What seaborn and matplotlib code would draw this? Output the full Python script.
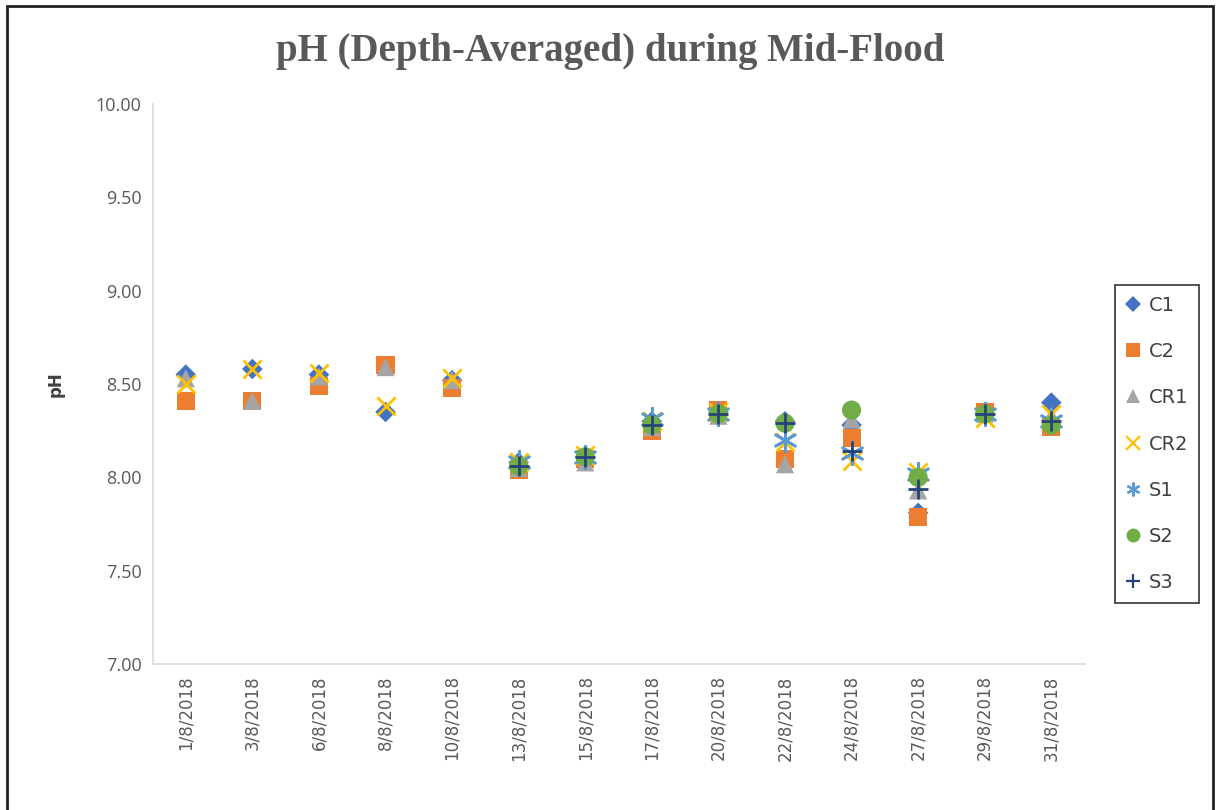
import numpy as np
import pandas as pd
import seaborn as sns
import matplotlib.pyplot as plt
from matplotlib.patches import Rectangle
from matplotlib.lines import Line2D

dates = ["1/8/2018", "3/8/2018", "6/8/2018", "8/8/2018", "10/8/2018",
         "13/8/2018", "15/8/2018", "17/8/2018", "20/8/2018", "22/8/2018",
         "24/8/2018", "27/8/2018", "29/8/2018", "31/8/2018"]

nan = np.nan
c1 = [8.55, 8.58, 8.55, 8.35, 8.52, 8.08, 8.11, 8.30, 8.35, 8.30, 8.28, 7.81, 8.34, 8.40]
c2 = [8.41, 8.41, 8.49, 8.60, 8.48, 8.04, 8.10, 8.25, 8.36, 8.10, 8.21, 7.79, 8.35, 8.27]
cr1 = [8.53, 8.41, 8.54, 8.59, 8.52, 8.05, 8.08, 8.27, 8.33, 8.07, 8.31, 7.93, 8.34, 8.33]
cr2 = [8.50, 8.58, 8.56, 8.38, 8.53, 8.08, 8.12, 8.30, 8.35, 8.19, 8.09, 8.03, 8.32, 8.34]
s1 = [nan, nan, nan, nan, nan, 8.08, 8.11, 8.31, 8.34, 8.20, 8.13, 8.02, 8.34, 8.30]
s2 = [nan, nan, nan, nan, nan, 8.06, 8.11, 8.28, 8.34, 8.29, 8.36, 8.00, 8.34, 8.28]
s3 = [nan, nan, nan, nan, nan, 8.06, 8.11, 8.28, 8.34, 8.29, 8.14, 7.94, 8.34, 8.30]

series = {"C1": c1, "C2": c2, "CR1": cr1, "CR2": cr2, "S1": s1, "S2": s2, "S3": s3}

# marker, colour, size, filled
styles = {
    "C1": ("D", "#4472C4", 110, True),
    "C2": ("s", "#ED7D31", 170, True),
    "CR1": ("^", "#A5A5A5", 170, True),
    "CR2": ("x", "#FFC000", 170, False),
    "S1": ((6, 2, 0), "#5B9BD5", 260, False),
    "S2": ("o", "#70AD47", 190, True),
    "S3": ("+", "#264478", 220, False),
}

sns.set_style("white")
fig = plt.figure(figsize=(12.2, 8.1), dpi=100)
ax = fig.add_axes([0.125, 0.180, 0.764, 0.692])

handles = []
for name, vals in series.items():
    df = pd.DataFrame({"date": dates, "pH": vals}).dropna()
    m, col, s, filled = styles[name]
    if filled:
        sns.scatterplot(data=df, x="date", y="pH", marker=m, color=col, s=s,
                        edgecolor="none", ax=ax, zorder=3)
    else:
        sns.scatterplot(data=df, x="date", y="pH", marker=m, color=col, s=s,
                        linewidth=2, ax=ax, zorder=3)
    handles.append(Line2D([], [], linestyle="none", marker=m, color=col,
                          markersize=10 if m != "D" else 8,
                          markeredgewidth=0 if filled else 1.6, label=name))

ax.set_xlim(-0.5, len(dates) - 0.5)
ax.set_ylim(7.0, 10.0)
ax.set_yticks(np.arange(7.0, 10.01, 0.5))
ax.set_yticklabels([f"{v:.2f}" for v in np.arange(7.0, 10.01, 0.5)],
                   fontsize=13, color="#595959", family="Open Sans")
ax.set_xticks(range(len(dates)))
ax.set_xticklabels(dates, rotation=90, fontsize=12, color="#595959")
ax.tick_params(axis="both", length=0, pad=8)

ax.set_xlabel("")
ax.set_ylabel("pH", fontsize=12, fontweight="bold", color="#404040", labelpad=22)

for side in ["top", "right"]:
    ax.spines[side].set_visible(False)
for side in ["left", "bottom"]:
    ax.spines[side].set_color("#D9D9D9")
    ax.spines[side].set_linewidth(1.2)

fig.text(0.500, 0.937, "pH (Depth-Averaged) during Mid-Flood", ha="center", va="center",
         fontsize=28, fontweight="bold", family="Liberation Serif", color="#595959")

leg = ax.legend(handles=handles, loc="center left", bbox_to_anchor=(1115 / 1220, 366 / 810),
                bbox_transform=fig.transFigure, frameon=True, fancybox=False,
                edgecolor="black", fontsize=14, labelspacing=1.4, handlelength=0.8,
                handletextpad=0.4, borderpad=0.55, borderaxespad=0)
leg.get_frame().set_linewidth(1.2)
for t in leg.get_texts():
    t.set_color("#404040")

fig.patches.append(Rectangle((0.006, -0.01), 0.988, 1.003, transform=fig.transFigure,
                             fill=False, edgecolor="#222222", linewidth=2))

fig.savefig("out.png", dpi=100)
